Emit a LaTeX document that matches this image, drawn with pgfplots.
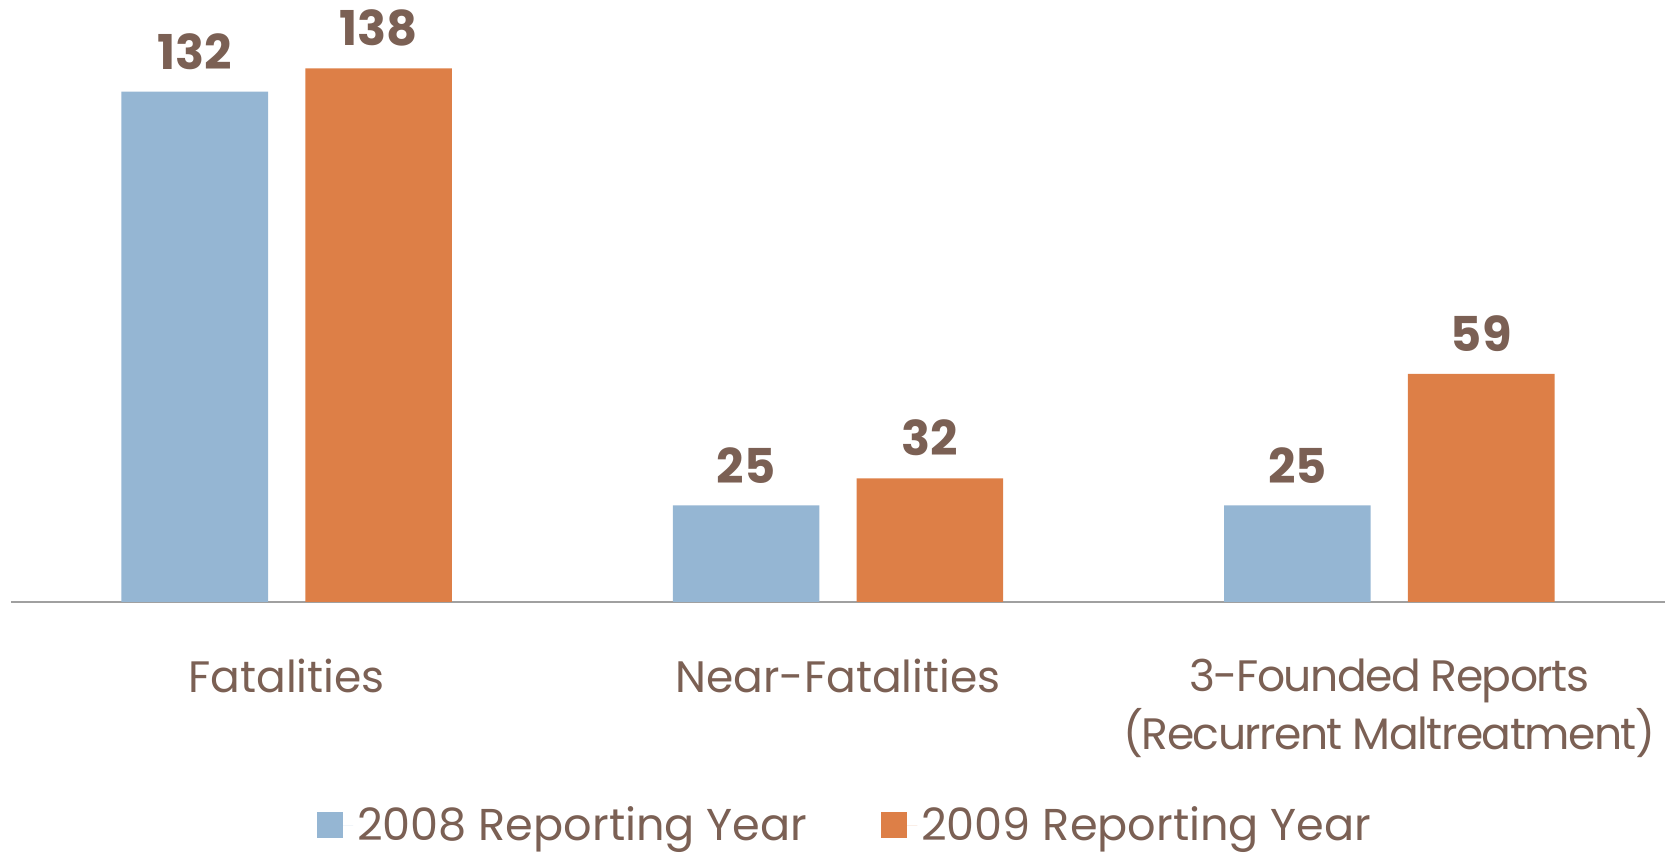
\documentclass[border=0pt]{standalone}
\usepackage{fontspec}
\setmainfont{Poppins}
\usepackage{pgfplots}
\pgfplotsset{compat=1.18}
\definecolor{barBlue}{RGB}{149,182,211}
\definecolor{barOrange}{RGB}{221,127,71}
\definecolor{txtBrown}{RGB}{123,96,84}
\definecolor{axGray}{RGB}{160,160,160}
\begin{document}
\begin{tikzpicture}
% fixed page: axis box starts at (0,0)
\useasboundingbox (-5.5pt,-126pt) rectangle (827pt,301pt);
\begin{axis}[
    at={(0,0)}, anchor=south west,
    scale only axis,
    width=827pt, height=290pt,
    ybar=18.6pt,
    bar width=73.3pt,
    xmin=-0.5, xmax=2.5,
    ymin=0, ymax=150,
    xtick={0,1,2},
    xticklabels={Fatalities, Near-Fatalities, {\addfontfeatures{LetterSpace=-3.5}3-Founded Reports\\\addfontfeatures{LetterSpace=-3.5}(Recurrent Maltreatment)}},
    x tick label style={align=center, font=\fontsize{22}{29}\selectfont, text=txtBrown, yshift=-25pt},
    major tick length=0pt,
    ytick=\empty,
    axis x line*=bottom,
    axis y line=none,
    x axis line style={axGray, line width=1.2pt, -},
    nodes near coords,
    /pgf/number format/assume math mode=true,
    every node near coord/.append style={font=\fontsize{24}{30}\selectfont\bfseries, text=txtBrown, yshift=7.5pt},
    legend style={at={(0.505,-0.385)}, anchor=center, draw=none, font=\fontsize{22.3}{28}\selectfont, text=txtBrown, legend columns=2, /tikz/every even column/.append style={column sep=35pt}},
    legend image code/.code={\fill[#1] (0pt,-6.5pt) rectangle (13pt,6.5pt); \path (0pt,0pt) -- (18pt,0pt);},
]
\addplot[fill=barBlue, draw=none] coordinates {(0,132) (1,25) (2,25)};
\addlegendentry{2008 Reporting Year}
\addplot[fill=barOrange, draw=none] coordinates {(0,138) (1,32) (2,59)};
\addlegendentry{2009 Reporting Year}
\end{axis}
\end{tikzpicture}
\end{document}
